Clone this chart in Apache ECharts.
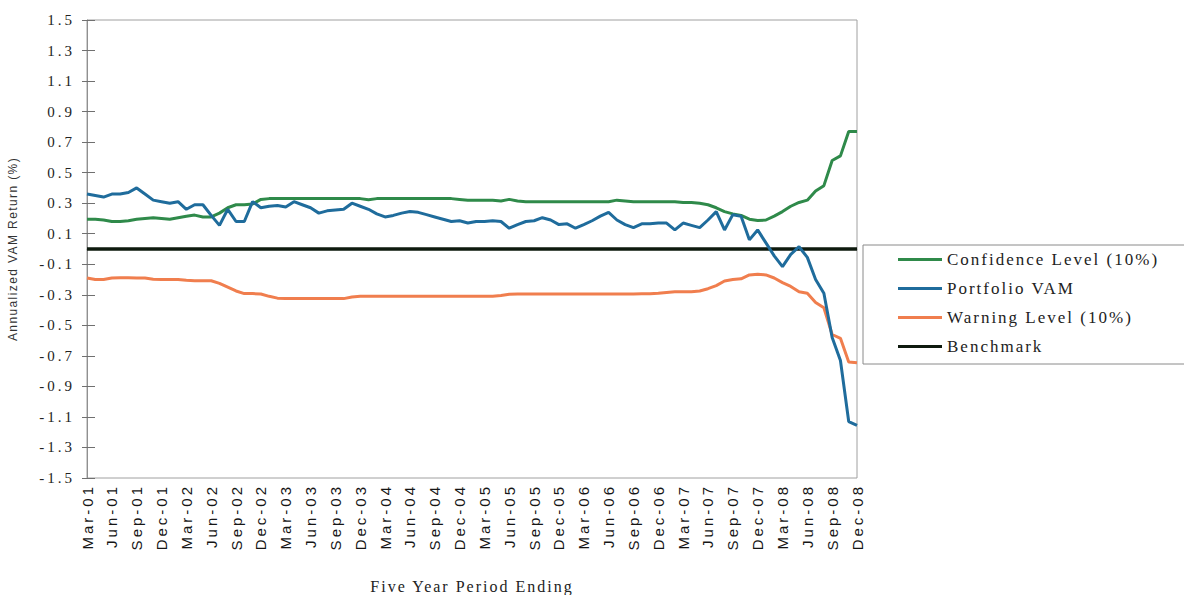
<!DOCTYPE html>
<html>
<head>
<meta charset="utf-8">
<script src="https://cdn.jsdelivr.net/npm/echarts@6/dist/echarts.min.js"></script>
<style>
  html, body { margin: 0; padding: 0; background: #ffffff; }
  #chart { width: 1184px; height: 595px; }
</style>
</head>
<body>
<div id="chart"></div>
<script>
// Categories: monthly, Mar-01 .. Dec-08
const monthNames = ['Jan','Feb','Mar','Apr','May','Jun','Jul','Aug','Sep','Oct','Nov','Dec'];
const categories = [];
for (let y = 2001; y <= 2008; y++) {
  for (let m = 0; m < 12; m++) {
    if (y === 2001 && m < 2) continue;
    categories.push(monthNames[m] + '-' + String(y % 100).padStart(2, '0'));
  }
}

const seriesNames = ['Confidence Level (10%)', 'Portfolio VAM', 'Warning Level (10%)', 'Benchmark'];

const confidenceLevel = [
  0.195, 0.195, 0.19, 0.18, 0.18, 0.185, 0.195, 0.2, 0.205, 0.2,
  0.195, 0.205, 0.215, 0.222, 0.21, 0.21, 0.235, 0.27, 0.29, 0.29,
  0.295, 0.325, 0.33, 0.33, 0.33, 0.33, 0.33, 0.33, 0.33, 0.33,
  0.33, 0.33, 0.33, 0.33, 0.322, 0.33, 0.33, 0.33, 0.33, 0.33,
  0.33, 0.33, 0.33, 0.33, 0.33, 0.325, 0.32, 0.32, 0.32, 0.32,
  0.315, 0.325, 0.315, 0.31, 0.31, 0.31, 0.31, 0.31, 0.31, 0.31,
  0.31, 0.31, 0.31, 0.31, 0.32, 0.315, 0.31, 0.31, 0.31, 0.31,
  0.31, 0.31, 0.305, 0.305, 0.30, 0.29, 0.27, 0.245, 0.23, 0.22,
  0.195, 0.186, 0.19, 0.215, 0.245, 0.28, 0.305, 0.32, 0.38, 0.415,
  0.58, 0.61, 0.77, 0.77
];

const portfolioVAM = [
  0.36, 0.35, 0.34, 0.36, 0.36, 0.37, 0.40, 0.36, 0.32, 0.31,
  0.30, 0.31, 0.26, 0.29, 0.29, 0.22, 0.155, 0.26, 0.18, 0.18,
  0.31, 0.27, 0.28, 0.285, 0.275, 0.31, 0.29, 0.27, 0.235, 0.25,
  0.255, 0.26, 0.30, 0.28, 0.26, 0.23, 0.21, 0.22, 0.235, 0.245,
  0.24, 0.225, 0.21, 0.195, 0.18, 0.185, 0.17, 0.18, 0.18, 0.185,
  0.18, 0.136, 0.16, 0.18, 0.185, 0.205, 0.19, 0.16, 0.165, 0.136,
  0.16, 0.185, 0.215, 0.24, 0.19, 0.16, 0.14, 0.165, 0.165, 0.17,
  0.17, 0.125, 0.17, 0.155, 0.14, 0.19, 0.245, 0.125, 0.225, 0.215,
  0.06, 0.125, 0.04, -0.045, -0.116, -0.035, 0.015, -0.055, -0.2, -0.29,
  -0.58, -0.73, -1.13, -1.155
];

const warningLevel = [
  -0.19, -0.2, -0.2, -0.19, -0.188, -0.188, -0.19, -0.19, -0.198, -0.2,
  -0.2, -0.2, -0.205, -0.208, -0.208, -0.208, -0.225, -0.25, -0.275, -0.292,
  -0.292, -0.295, -0.31, -0.322, -0.325, -0.325, -0.325, -0.325, -0.325, -0.325,
  -0.325, -0.325, -0.315, -0.31, -0.31, -0.31, -0.31, -0.31, -0.31, -0.31,
  -0.31, -0.31, -0.31, -0.31, -0.31, -0.31, -0.31, -0.31, -0.31, -0.31,
  -0.305, -0.297, -0.295, -0.295, -0.295, -0.295, -0.295, -0.295, -0.295, -0.295,
  -0.295, -0.295, -0.295, -0.295, -0.295, -0.295, -0.295, -0.293, -0.293, -0.29,
  -0.285, -0.28, -0.28, -0.28, -0.275, -0.26, -0.24, -0.21, -0.2, -0.195,
  -0.17, -0.165, -0.17, -0.19, -0.22, -0.245, -0.28, -0.29, -0.35, -0.385,
  -0.56, -0.585, -0.74, -0.745
];

const benchmark = [
  0, 0, 0, 0, 0, 0, 0, 0, 0, 0,
  0, 0, 0, 0, 0, 0, 0, 0, 0, 0,
  0, 0, 0, 0, 0, 0, 0, 0, 0, 0,
  0, 0, 0, 0, 0, 0, 0, 0, 0, 0,
  0, 0, 0, 0, 0, 0, 0, 0, 0, 0,
  0, 0, 0, 0, 0, 0, 0, 0, 0, 0,
  0, 0, 0, 0, 0, 0, 0, 0, 0, 0,
  0, 0, 0, 0, 0, 0, 0, 0, 0, 0,
  0, 0, 0, 0, 0, 0, 0, 0, 0, 0,
  0, 0, 0, 0
];

const colors = ['#2f8a4a', '#1f6c9c', '#f07e4e', '#0e1a0e'];

const chart = echarts.init(document.getElementById('chart'), null, { renderer: 'svg' });

const SERIF = 'Liberation Serif';
const SANS = 'Liberation Sans';

const yCommon = {
  type: 'value',
  min: -1.5,
  max: 1.5,
  interval: 0.2,
  splitLine: { show: false }
};

chart.setOption({
  animation: false,
  backgroundColor: '#ffffff',
  grid: {
    left: 87, right: 327, top: 20, bottom: 117,
    containLabel: false,
    outerBoundsMode: 'none',
    show: true, borderColor: '#a0a0a0', borderWidth: 1
  },
  legend: {
    orient: 'vertical',
    left: 863,
    top: 245,
    padding: [6, 120, 9, 35],
    icon: 'rect',
    itemWidth: 44,
    itemHeight: 3,
    itemGap: 12,
    borderColor: '#8a8a8a',
    borderWidth: 1,
    data: seriesNames,
    textStyle: { fontFamily: SERIF, fontSize: 17, lineHeight: 17, color: '#222' }
  },
  xAxis: {
    type: 'category',
    data: categories,
    boundaryGap: false,
    name: 'Five Year Period Ending',
    nameLocation: 'middle',
    nameGap: 100,
    nameMoveOverlap: false,
    nameTextStyle: { fontFamily: SERIF, fontSize: 16, color: '#222' },
    axisLine: { lineStyle: { color: '#a0a0a0', width: 1 } },
    axisTick: { show: false },
    axisLabel: {
      interval: 2,
      rotate: 90,
      margin: 6,
      fontFamily: SANS,
      fontSize: 15,
      color: '#151515'
    },
    splitLine: { show: false }
  },
  yAxis: [
    Object.assign({}, yCommon, {
      name: 'Annualized VAM Return (%)',
      nameLocation: 'middle',
      nameGap: 68,
      nameMoveOverlap: false,
      nameTextStyle: { fontFamily: SANS, fontSize: 12, color: '#333' },
      axisLine: { show: true, lineStyle: { color: '#909090', width: 1 } },
      axisTick: { show: true, inside: false, length: 5, lineStyle: { color: '#707070' } },
      axisLabel: { margin: 12, fontFamily: SERIF, fontSize: 15, color: '#222' }
    }),
    Object.assign({}, yCommon, {
      position: 'left',
      axisLine: { show: false },
      axisTick: { show: true, inside: true, length: 8, lineStyle: { color: '#707070' } },
      axisLabel: { show: false }
    })
  ],
  series: [
    { name: seriesNames[0], type: 'line', data: confidenceLevel, symbol: 'none', z: 3,
      lineStyle: { color: colors[0], width: 3 }, itemStyle: { color: colors[0] } },
    { name: seriesNames[1], type: 'line', data: portfolioVAM, symbol: 'none', z: 4,
      lineStyle: { color: colors[1], width: 3 }, itemStyle: { color: colors[1] } },
    { name: seriesNames[2], type: 'line', data: warningLevel, symbol: 'none', z: 3,
      lineStyle: { color: colors[2], width: 3 }, itemStyle: { color: colors[2] } },
    { name: seriesNames[3], type: 'line', data: benchmark, symbol: 'none', z: 2,
      lineStyle: { color: colors[3], width: 3.5 }, itemStyle: { color: colors[3] } }
  ]
});

// The reference text is widely tracked: apply letter spacing by text role.
function styleTexts() {
  document.querySelectorAll('#chart svg text').forEach(function (t) {
    const s = (t.textContent || '').trim();
    let look = null;
    if (/^-?\d+(\.\d+)?$/.test(s)) look = ['15px', '3px', SERIF];
    else if (/^[A-Z][a-z]{2}-\d\d$/.test(s)) look = ['15px', '3px', SANS];
    else if (seriesNames.indexOf(s) >= 0) look = ['17px', '2px', SERIF];
    else if (s === 'Five Year Period Ending') look = ['16px', '2px', SERIF];
    else if (s.indexOf('Annualized') === 0) look = ['12px', '1.4px', SANS];
    if (look) {
      t.style.fontSize = look[0];
      t.style.letterSpacing = look[1];
      t.style.fontFamily = '"' + look[2] + '"';
    }
  });
}
chart.getZr().refreshImmediately();
styleTexts();
chart.on('finished', styleTexts);
</script>
</body>
</html>
